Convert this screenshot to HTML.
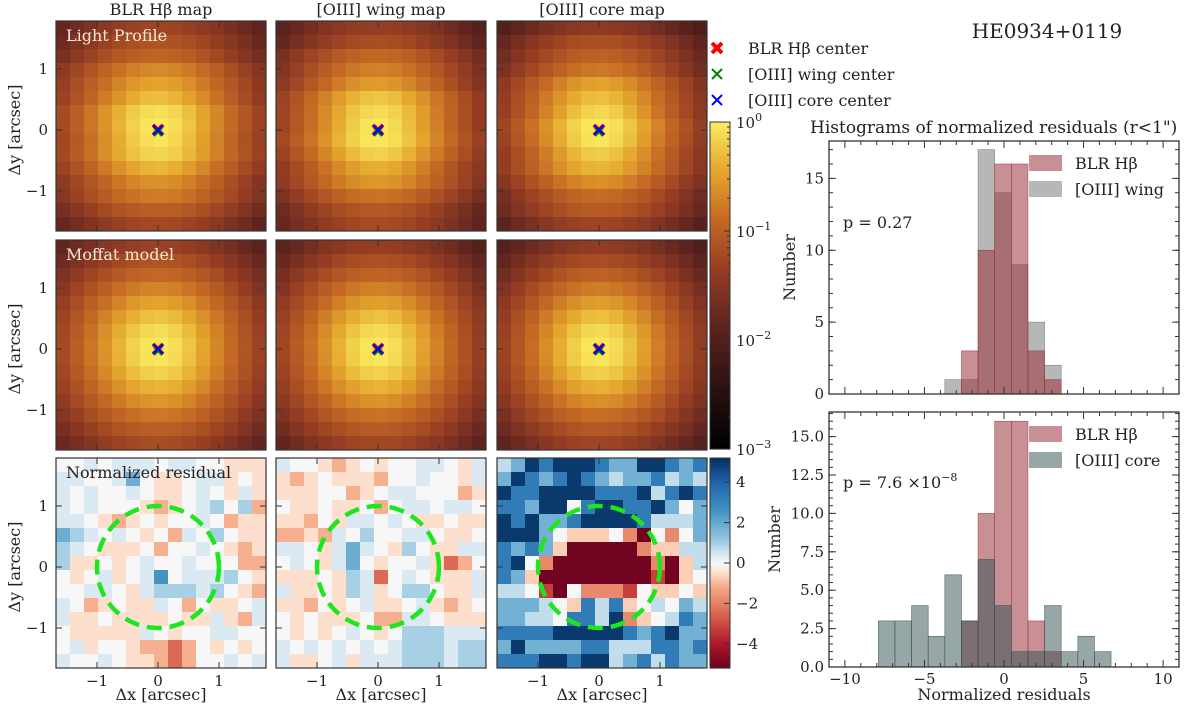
<!DOCTYPE html>
<html><head><meta charset="utf-8"><style>
body{margin:0;background:#fff;width:1200px;height:714px;overflow:hidden}
svg{display:block}
text{font-family:"DejaVu Serif","Liberation Serif",serif;fill:#222}
</style></head><body>
<svg id="fig" width="1200" height="714" viewBox="0 0 1200 714" xmlns="http://www.w3.org/2000/svg"></svg>
<script>
// ---- data ----
const profileRadii=[0,1,2,3,4,5,6,7,8,9,10,11];
const profileLog=[0,-0.05,-0.2,-0.4,-0.62,-0.85,-1.05,-1.25,-1.45,-1.65,-1.85,-2.05];
const res1=["..c.ccc.cc..ppp","cc..cB.pp.ccp.p","c.c..c.pp.c.pcp","c.c...pop.cb.bo","cc.pop.p..c.opp","Bbc.c.p.oc.b.pp","bc.ppp.o..c.pop","bpp.p.c..c...oo",".p.cp.cN.cccb.p","..cc.pcbbbcb.po","c.op.ppc.o.pp.c","cpp.pppp.ppcpoc",".pppppc.p..cc..",".cp..pooro.p.p.","c..c.pporo..c.c"];
const res2=["c..pop.p..cc.pc","pop.pppo..c..pc","ppp..op.cc...op",".pp.pp.o.cc.cc.","ppo.pcc.c.pp.pp","oopoc.b..cc.pp.","cc.pcBc.pb.ppcc",".c.pcB.p..cpro.","ppp.pbcr.c.pppc","cpp.pbcp.bb.ppc","ppo.p.cpp.cpop.",".p.ppp.oocc.ppp",".p.p.c.p.bbbccc","c.c.c.c.cbbbcbb","cpp.cpcccbbbcbb"];
const res3=["cbNBNNNBbbNNBbB","bNBbBNBbcbbBcbc","NBBNNNNBBBNcBNB","BBbNN.BNNBBNb.b","NBNbbBNNNNBcccb","NNNb.ppp.oR.o.b","BbBbpRRRRRoppcc","BN.oRRRRRRRoRpc","BbpRRRRRRRRrRp.","cc.rR.ooor.pp.p","bbbc.pBcBp.c.bc","bbcc.BBcNop.cBb","BBBBNNNNNBbBNbb","bNbbbbBBcccBBbB","BBBNNBNNcbBcBbb"];
const resCodeWeak={R:-5,r:-2.4,o:-1.1,p:-0.45,'.':0,c:0.4,b:1.0,B:1.9,N:2.6};
const resCodeStrong={R:-5,r:-3.2,o:-1.8,p:-0.7,'.':0,c:0.7,b:1.8,B:3.3,N:5};
const histEdges0=-7.9, binW=1.045;
const blrCounts=[0,0,0,0,0,3,10,16,16,3,1,0,0,0];
const wingCounts=[0,0,0,0,1,1,17,14,9,5,2,0,0,0];
const coreCounts=[3,3,4,2,6,3,7,4,1,1,4,1,2,1];
const histTopTicks=[0,5,10,15];
const histBotTicks=[0,2.5,5,7.5,10,12.5,15];
const histXTicks=[-10,-5,0,5,10];
const mapTicks=[-1,0,1];
const resTicks=[4,2,0,-2,-4];
const cbLogTicks=[0,-1,-2,-3];

const NS="http://www.w3.org/2000/svg";
const fig=document.getElementById('fig');
function el(tag,attrs,parent,txt){const e=document.createElementNS(NS,tag);for(const k in attrs)e.setAttribute(k,attrs[k]);if(txt!==undefined)e.textContent=txt;(parent||fig).appendChild(e);return e;}
function lerpStops(stops,t){t=Math.max(0,Math.min(1,t));for(let i=1;i<stops.length;i++){if(t<=stops[i][0]){const a=stops[i-1],b=stops[i];const f=(t-a[0])/(b[0]-a[0]);return `rgb(${[1,2,3].map(j=>Math.round(a[j]+(b[j]-a[j])*f)).join(',')})`;}}const s=stops[stops.length-1];return `rgb(${s[1]},${s[2]},${s[3]})`;}
const heatStops=[[0,0,0,0],[0.2,45,18,18],[0.4,100,38,32],[0.55,150,62,35],[0.7,196,104,36],[0.85,228,165,45],[1,250,236,95]];
const rdbuStops=[[0,103,0,31],[0.12,178,24,43],[0.25,214,96,77],[0.38,244,165,130],[0.45,253,219,199],[0.5,247,247,247],[0.55,209,229,240],[0.62,146,197,222],[0.75,67,147,195],[0.88,33,102,172],[1,5,48,97]];
function heatColor(lg){return lerpStops(heatStops,(lg+3)/3);}
function rdbu(v){return lerpStops(rdbuStops,(v+5.2)/10.4);}

const colX=[56,276,497], rowY=[21,240,458], PW=210, CELL=14, SC=61, OX=102, OY=109;
const colTitles=["BLR Hβ map","[OIII] wing map","[OIII] core map"];

function interpProfile(r){if(r>=profileRadii[profileRadii.length-1])return profileLog[profileLog.length-1];const i=Math.floor(r);const f=r-i;return profileLog[i]+(profileLog[i+1]-profileLog[i])*f;}

function drawTicks(g,x0,y0,w,h,showX,showY){
  for(const v of mapTicks){
    const px=x0+OX+v*SC, py=y0+OY-v*SC;
    el('line',{x1:px,y1:y0+h,x2:px,y2:y0+h-6,stroke:'#333'},g);
    el('line',{x1:px,y1:y0,x2:px,y2:y0+6,stroke:'#333'},g);
    el('line',{x1:x0,y1:py,x2:x0+6,y2:py,stroke:'#333'},g);
    el('line',{x1:x0+w,y1:py,x2:x0+w-6,y2:py,stroke:'#333'},g);
    if(showX){const t=el('text',{x:px,y:y0+h+18,'text-anchor':'middle','font-size':15},g,v<0?'−1':String(v));}
    if(showY){const t=el('text',{x:x0-8,y:py+5,'text-anchor':'end','font-size':15},g,v<0?'−1':String(v));}
  }
}

for(let c=0;c<3;c++){
  const t=el('text',{x:colX[c]+PW/2,y:15,'text-anchor':'middle','font-size':16},fig,colTitles[c]);
  
  for(let r=0;r<3;r++){
    const x0=colX[c],y0=rowY[r];
    const g=el('g',{});
    
    
    const cx=OX/CELL-0.5, cy=OY/CELL-0.5;
    for(let i=0;i<15;i++)for(let j=0;j<15;j++){
      let fill;
      if(r<2){const d=Math.hypot(j-cx,i-cy)*(1+0.03*c)+(r===0?0.15*((i*7+j*3+c)%3-1):0);fill=heatColor(interpProfile(d));}
      else{const grid=[res1,res2,res3][c];const code=c<2?resCodeWeak:resCodeStrong;fill=rdbu(code[grid[i][j]]);}
      const rc=el('rect',{x:x0+j*CELL,y:y0+i*CELL,width:CELL+0.5,height:CELL+0.5,fill},g);
      
      
    }
    el('rect',{x:x0,y:y0,width:PW,height:PW,fill:'none',stroke:'#333','stroke-width':1.2},g);
    drawTicks(g,x0,y0,PW,PW,r===2,c===0);
    if(r<2){
      const mx=x0+OX,my=y0+OY;
      el('path',{d:`M${mx-5} ${my-5}L${mx+5} ${my+5}M${mx+5} ${my-5}L${mx-5} ${my+5}`,stroke:'red','stroke-width':4},g);
      el('path',{d:`M${mx-4} ${my-2}L${mx+4} ${my+6}M${mx+4} ${my-2}L${mx-4} ${my+6}`,stroke:'green','stroke-width':2},g);
      el('path',{d:`M${mx-5} ${my-5}L${mx+5} ${my+5}M${mx+5} ${my-5}L${mx-5} ${my+5}`,stroke:'blue','stroke-width':2},g);
    } else {
      const circ=el('circle',{cx:x0+OX,cy:y0+OY,r:SC,fill:'none',stroke:'#1ee61e','stroke-width':4.5,'stroke-dasharray':'15 8'},g);
      
    }
  }
}
// row labels
const rowLabels=[["Light Profile",'#f2ead8'],["Moffat model",'#f2ead8'],["Normalized residual",'#222']];
rowLabels.forEach((l,r)=>{const t=el('text',{x:66,y:rowY[r]+20,'font-size':16,fill:l[1]},fig,l[0]);t.style.fill=l[1];});
for(let r=0;r<3;r++){const t=el('text',{x:0,y:0,'font-size':16,'text-anchor':'middle',transform:`translate(20,${rowY[r]+OY}) rotate(-90)`},fig,'Δy [arcsec]');}
for(let c=0;c<3;c++){const t=el('text',{x:colX[c]+PW/2,y:700,'font-size':16,'text-anchor':'middle'},fig,'Δx [arcsec]');}

// colorbars
const cb1=el('g',{});
const cbTop=122,cbBot=449,cbX=710,cbW=20;
for(let k=0;k<100;k++){const lg=-3+3*(k+0.5)/100;el('rect',{x:cbX,y:cbBot-(k+1)*(cbBot-cbTop)/100,width:cbW,height:(cbBot-cbTop)/100+0.6,fill:heatColor(lg)},cb1);}
el('rect',{x:cbX,y:cbTop,width:cbW,height:cbBot-cbTop,fill:'none',stroke:'#333'},cb1);
cbLogTicks.forEach(v=>{const y=cbBot-(v+3)/3*(cbBot-cbTop);el('line',{x1:cbX+cbW,y1:y,x2:cbX+cbW-6,y2:y,stroke:'#333'},cb1);
  const t=el('text',{x:cbX+cbW+6,y:y+6,'font-size':15},cb1,'10');el('tspan',{dy:-7,'font-size':11},t,v===0?'0':'−'+(-v));
  for(let m=2;m<10&&v>-3;m++){const ym=cbBot-((v-1)+Math.log10(m)+3)/3*(cbBot-cbTop);el('line',{x1:cbX+cbW,y1:ym,x2:cbX+cbW-3,y2:ym,stroke:'#333'},cb1);}
});
const cb2=el('g',{});
const c2T=458,c2B=668;
for(let k=0;k<100;k++){const v=-5.2+10.4*(k+0.5)/100;el('rect',{x:cbX,y:c2B-(k+1)*(c2B-c2T)/100,width:cbW,height:(c2B-c2T)/100+0.6,fill:rdbu(v)},cb2);}
el('rect',{x:cbX,y:c2T,width:cbW,height:c2B-c2T,fill:'none',stroke:'#333'},cb2);
resTicks.forEach(v=>{const y=c2B-(v+5.2)/10.4*(c2B-c2T);el('line',{x1:cbX+cbW,y1:y,x2:cbX+cbW-6,y2:y,stroke:'#333'},cb2);el('text',{x:cbX+cbW+6,y:y+5,'font-size':15},cb2,v<0?'−'+(-v):String(v));});

// marker legend
const lg=el('g',{});
[['red',4,'BLR Hβ center',48],['green',2,'[OIII] wing center',74],['blue',2,'[OIII] core center',100]].forEach(a=>{const [col,w,txt,y]=a;const mx=717;el('path',{d:`M${mx-5} ${y-5}L${mx+5} ${y+5}M${mx+5} ${y-5}L${mx-5} ${y+5}`,stroke:col,'stroke-width':w},lg);el('text',{x:748,y:y+6,'font-size':16},lg,txt);});

const title=el('text',{x:1047,y:38,'font-size':20,'text-anchor':'middle'},fig,'HE0934+0119');
const ht=el('text',{x:810,y:133,'font-size':17},fig,'Histograms of normalized residuals (r<1")');

// histograms
const HX0=829,HX1=1179,XMIN=-11,XMAX=11;
function xs(v){return HX0+(v-XMIN)/(XMAX-XMIN)*(HX1-HX0);}
function drawHist(top,bot,ymax,ticks,minorStep,series,legendOrder,pText,isBottom,name){
  const g=el('g',{});
  const ys=v=>bot-v/ymax*(bot-top);
  series.forEach(s=>{s.counts.forEach((n,i)=>{if(!n)return;const x=xs(histEdges0+i*binW);const b=el('rect',{x,y:ys(n),width:xs(histEdges0+(i+1)*binW)-x,height:bot-ys(n),fill:s.fill,'fill-opacity':s.op,stroke:s.fill,'stroke-opacity':0.8,'stroke-width':0.6},g);});});
  el('rect',{x:HX0,y:top,width:HX1-HX0,height:bot-top,fill:'none',stroke:'#333','stroke-width':1.3},g);
  for(let v=-11;v<=11;v++){const x=xs(v);const L=(v%5===0)?7:4;el('line',{x1:x,y1:bot,x2:x,y2:bot-L,stroke:'#333'},g);el('line',{x1:x,y1:top,x2:x,y2:top+L,stroke:'#333'},g);}
  if(isBottom)histXTicks.forEach(v=>el('text',{x:xs(v),y:bot+17,'font-size':15,'text-anchor':'middle'},g,v<0?'−'+(-v):String(v)));
  for(let v=0;v<=ymax;v+=minorStep){const y=ys(v);el('line',{x1:HX0,y1:y,x2:HX0+4,y2:y,stroke:'#333'},g);el('line',{x1:HX1,y1:y,x2:HX1-4,y2:y,stroke:'#333'},g);}
  ticks.forEach(v=>{const y=ys(v);el('line',{x1:HX0,y1:y,x2:HX0+7,y2:y,stroke:'#333'},g);el('line',{x1:HX1,y1:y,x2:HX1-7,y2:y,stroke:'#333'},g);el('text',{x:HX0-5,y:y+5,'font-size':15,'text-anchor':'end'},g,isBottom?v.toFixed(1):String(v));});
  el('text',{x:0,y:0,'font-size':16,'text-anchor':'middle',transform:`translate(${isBottom?780:795},${(top+bot)/2}) rotate(-90)`},g,'Number');
  const p=el('text',{x:843,y:pText.y,'font-size':16},g,pText.t);if(pText.sup)el('tspan',{dy:-7,'font-size':11},p,pText.sup);
  legendOrder.forEach((s,k)=>{const y=top+22+k*26;el('rect',{x:1029,y:y-8,width:33,height:16,fill:s.fill,'fill-opacity':s.op},g);el('text',{x:1075,y:y+6,'font-size':16},g,s.label);});
}
const sWing={name:'wing',counts:wingCounts,fill:'#6f6f6f',op:0.5,label:'[OIII] wing'};
const sBlr={name:'blr',counts:blrCounts,fill:'#9a333c',op:0.55,label:'BLR Hβ'};
const sCore={name:'core',counts:coreCounts,fill:'#2f4f4f',op:0.5,label:'[OIII] core'};
drawHist(141,394,17.6,histTopTicks,1,[sWing,sBlr],[sBlr,sWing],{y:228,t:'p = 0.27'},false,'histogram-top');
drawHist(412,667,16.6,histBotTicks,0.5,[sBlr,sCore],[sBlr,sCore],{y:488,t:'p = 7.6 ×10',sup:'−8'},true,'histogram-bottom');
const xl=el('text',{x:xs(0),y:700,'font-size':16,'text-anchor':'middle'},fig,'Normalized residuals');
</script>
</body></html>
